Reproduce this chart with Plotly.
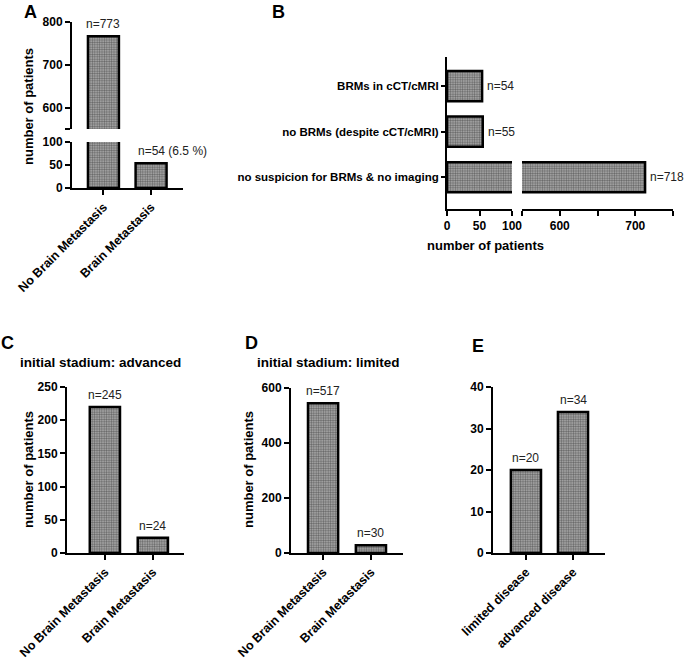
import plotly.graph_objects as go

W, H = 685, 660

# ---------------- data ----------------
a_cats = ["No Brain Metastasis", "Brain Metastasis"]
a_vals = [767, 54]
a_labels = ["n=773", "n=54 (6.5 %)"]

b_cats = ["no suspicion for BRMs & no imaging", "no BRMs (despite cCT/cMRI)", "BRMs in cCT/cMRI"]
b_vals = [713, 55, 54]
b_labels = ["n=718", "n=55", "n=54"]

c_cats = ["No Brain Metastasis", "Brain Metastasis"]
c_vals = [220, 23]
c_labels = ["n=245", "n=24"]

d_cats = ["No Brain Metastasis", "Brain Metastasis"]
d_vals = [545, 28]
d_labels = ["n=517", "n=30"]

e_cats = ["limited disease", "advanced disease"]
e_vals = [20, 34]
e_labels = ["n=20", "n=34"]

# ---------------- helpers ----------------
FONT = "Liberation Sans, Arial, sans-serif"


def px_x(a, b):
    return [a / W, b / W]


def px_y(top, bottom):
    return [1 - bottom / H, 1 - top / H]


marker = dict(
    color="#8c8c8c",
    line=dict(color="black", width=2.5),
    pattern=dict(shape=".", fgcolor="#1a1a1a", bgcolor="#b0b0b0", size=2.4, solidity=0.5),
)

tickfont = dict(family=FONT, size=12, color="black", weight="bold")
axis_common = dict(
    showline=True, linecolor="black", linewidth=2, ticks="outside", ticklen=5,
    tickwidth=2, tickcolor="black", showgrid=False, zeroline=False, tickfont=tickfont,
    fixedrange=True, automargin=False,
)
cat_font = dict(family=FONT, size=12.5, color="black", weight="bold")

fig = go.Figure()

# ---- Panel A (broken y axis) ----
fig.add_trace(go.Bar(x=a_cats, y=a_vals, width=0.65, marker=marker, xaxis="x", yaxis="y", showlegend=False))
fig.add_trace(go.Bar(x=a_cats, y=a_vals, width=0.65, marker=marker, xaxis="x", yaxis="y2", showlegend=False))

# ---- Panel B (broken x axis) ----
fig.add_trace(go.Bar(y=b_cats, x=b_vals, orientation="h", width=0.66, marker=marker,
                     xaxis="x2", yaxis="y3", showlegend=False))
fig.add_trace(go.Bar(y=b_cats, x=b_vals, orientation="h", width=0.66, marker=marker,
                     xaxis="x3", yaxis="y3", showlegend=False))

# ---- Panel C, D, E ----
fig.add_trace(go.Bar(x=c_cats, y=c_vals, width=0.63, marker=marker, xaxis="x4", yaxis="y4", showlegend=False))
fig.add_trace(go.Bar(x=d_cats, y=d_vals, width=0.63, marker=marker, xaxis="x5", yaxis="y5", showlegend=False))
fig.add_trace(go.Bar(x=e_cats, y=e_vals, width=0.64, marker=marker, xaxis="x6", yaxis="y6", showlegend=False))

layout = dict(
    width=W, height=H, autosize=False,
    margin=dict(l=0, r=0, t=0, b=0, pad=0),
    paper_bgcolor="white", plot_bgcolor="white",
    font=dict(family=FONT, color="black"),
    bargap=0,
)

# A axes
layout["xaxis"] = dict(axis_common, domain=px_x(72, 183), anchor="y", type="category",
                       range=[-0.66, 1.67], tickangle=-45, tickfont=cat_font)
layout["yaxis"] = dict(axis_common, domain=px_y(142, 188), anchor="x", range=[0, 100],
                       tickvals=[0, 50, 100])
layout["yaxis2"] = dict(axis_common, domain=px_y(22, 129), anchor="x", range=[551, 800],
                        tickvals=[551, 600, 700, 800], ticktext=["", "600", "700", "800"])

# B axes
ycat_b = dict(axis_common, type="category", range=[-0.70, 2.64], ticklen=4,
              tickfont=dict(family=FONT, size=11.5, color="black", weight="bold"))
layout["yaxis3"] = dict(ycat_b, domain=px_y(57, 209), anchor="x2")
layout["xaxis2"] = dict(axis_common, domain=px_x(447, 512), anchor="y3", range=[0, 100],
                        tickvals=[0, 50, 100])
layout["xaxis3"] = dict(axis_common, domain=px_x(522, 673), anchor="y3", range=[550, 750],
                        tickvals=[550, 600, 650, 700, 750], ticktext=["", "600", "", "700", ""])

# C axes
layout["xaxis4"] = dict(axis_common, domain=px_x(67, 184), anchor="y4", type="category",
                        range=[-0.79, 1.65], tickangle=-45, tickfont=cat_font)
layout["yaxis4"] = dict(axis_common, domain=px_y(387, 553), anchor="x4", range=[0, 250],
                        tickvals=[0, 50, 100, 150, 200, 250])
# D axes
layout["xaxis5"] = dict(axis_common, domain=px_x(291, 403), anchor="y5", type="category",
                        range=[-0.67, 1.67], tickangle=-45, tickfont=cat_font)
layout["yaxis5"] = dict(axis_common, domain=px_y(388, 553), anchor="x5", range=[0, 600],
                        tickvals=[0, 200, 400, 600])
# E axes
layout["xaxis6"] = dict(axis_common, domain=px_x(493, 605), anchor="y6", type="category",
                        range=[-0.70, 1.68], tickangle=-45, tickfont=cat_font)
layout["yaxis6"] = dict(axis_common, domain=px_y(387, 553), anchor="x6", range=[0, 40],
                        tickvals=[0, 10, 20, 30, 40])

fig.update_layout(**layout)

lab_font = dict(family=FONT, size=12, color="#222")
ann = []

# value labels above vertical bars
def vlabels(cats, vals, labels, xr, yr, anchors=None):
    for i, (c, v, t) in enumerate(zip(cats, vals, labels)):
        xa = "center" if anchors is None else anchors[i]
        xs = 0 if xa == "center" else -15
        ann.append(dict(x=c, y=v, xref=xr, yref=yr, text=t, showarrow=False, font=lab_font,
                        xanchor=xa, yanchor="bottom", yshift=3, xshift=xs))

vlabels(a_cats[:1], a_vals[:1], a_labels[:1], "x", "y2")
vlabels(a_cats[1:], a_vals[1:], a_labels[1:], "x", "y", anchors=["left"])
vlabels(c_cats, c_vals, c_labels, "x4", "y4")
vlabels(d_cats, d_vals, d_labels, "x5", "y5")
vlabels(e_cats, e_vals, e_labels, "x6", "y6")

# labels right of horizontal bars in B
for c, v, t in zip(b_cats, b_vals, b_labels):
    xr = "x3" if v > 100 else "x2"
    ann.append(dict(x=v, y=c, xref=xr, yref="y3", text=t, showarrow=False, font=lab_font,
                    xanchor="left", yanchor="middle", xshift=3))

# axis titles
title_font = dict(family=FONT, size=13, color="black", weight="bold")
ann.append(dict(x=28 / W, y=1 - 107 / H, xref="paper", yref="paper", text="number of patients",
                textangle=-90, showarrow=False, font=title_font, xanchor="center", yanchor="middle"))
ann.append(dict(x=28 / W, y=1 - 470 / H, xref="paper", yref="paper", text="number of patients",
                textangle=-90, showarrow=False, font=title_font, xanchor="center", yanchor="middle"))
ann.append(dict(x=248 / W, y=1 - 470 / H, xref="paper", yref="paper", text="number of patients",
                textangle=-90, showarrow=False, font=title_font, xanchor="center", yanchor="middle"))
ann.append(dict(x=485 / W, y=1 - 245 / H, xref="paper", yref="paper", text="number of patients",
                showarrow=False, font=title_font, xanchor="center", yanchor="middle"))

# panel letters and titles
letter_font = dict(family=FONT, size=18, color="black", weight="bold")
for t, x, y in [("A", 30, 12), ("B", 278, 12), ("C", 8, 343), ("D", 251, 343), ("E", 478, 346)]:
    ann.append(dict(x=x / W, y=1 - y / H, xref="paper", yref="paper", text=t, showarrow=False,
                    font=letter_font, xanchor="center", yanchor="middle"))
sub_font = dict(family=FONT, size=13.5, color="black", weight="bold")
for t, x, y in [("initial stadium: advanced", 18, 362), ("initial stadium: limited", 255, 362)]:
    ann.append(dict(x=x / W, y=1 - y / H, xref="paper", yref="paper", text=t, showarrow=False,
                    font=sub_font, xanchor="left", yanchor="middle"))

fig.update_layout(annotations=ann)
fig.write_html(
    "out.html",
    config={"displayModeBar": False, "staticPlot": True},
    post_script="document.body.style.margin='0';document.body.style.padding='0';",
)
